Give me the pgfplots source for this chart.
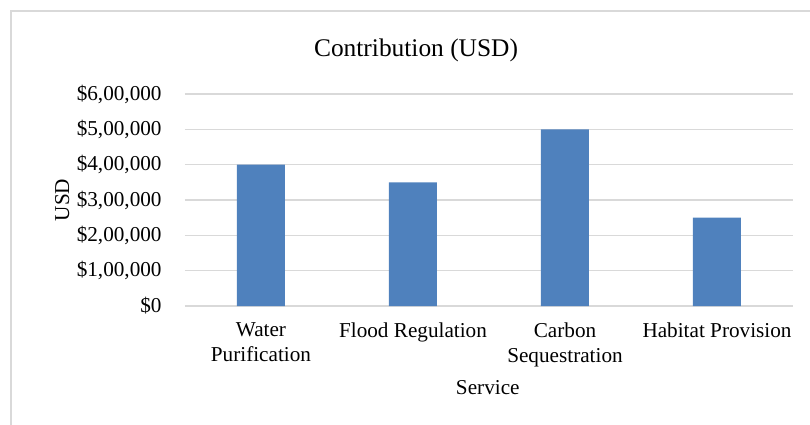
\documentclass[border=0pt]{standalone}
\usepackage{pgfplots}
\pgfplotsset{compat=1.18}
\usepackage{fontspec}
\setmainfont{Liberation Serif}
\definecolor{barblue}{HTML}{4F81BD}
\definecolor{gridgray}{HTML}{D9D9D9}
\begin{document}
\begin{tikzpicture}
\path[use as bounding box] (0,0) rectangle (405pt,212pt);
\begin{scope}
\clip (0,0) rectangle (405pt,212pt);
\draw[gridgray, line width=1pt] (5.5pt,-5pt) -- (5.5pt,206.5pt) -- (420pt,206.5pt);
\end{scope}
\begin{axis}[
  at={(92.5pt,59pt)}, anchor=south west,
  scale only axis, width=304pt, height=106pt,
  xmin=-0.5, xmax=3.5, ymin=0, ymax=600000,
  ybar, bar width=24pt,
  axis x line*=bottom, axis y line*=left,
  x axis line style={gridgray, line width=0.6pt, -},
  y axis line style={draw=none},
  major tick length=0pt,
  ymajorgrids, grid style={gridgray, line width=0.6pt},
  xtick={0,1,2,3},
  xticklabels={{Water\\Purification},{Flood Regulation},{Carbon\\Sequestration},{Habitat Provision}},
  xticklabel style={align=center, anchor=north, inner sep=0pt, yshift=-8pt, font=\fontsize{10.6}{12.5}\selectfont},
  ytick={0,100000,200000,300000,400000,500000,600000},
  yticklabels={{\$0},{\$1,00,000},{\$2,00,000},{\$3,00,000},{\$4,00,000},{\$5,00,000},{\$6,00,000}},
  yticklabel style={anchor=east, inner sep=0pt, xshift=-11.5pt, font=\fontsize{10.6}{12.5}\selectfont},
  scaled y ticks=false,
  title={Contribution (USD)},
  title style={at={(axis description cs:0.38,1.151)}, anchor=center, font=\fontsize{12.7}{15}\selectfont},
  xlabel={Service},
  xlabel style={at={(axis description cs:0.498,-0.387)}, anchor=center, font=\fontsize{10.6}{12.5}\selectfont},
  ylabel={USD},
  ylabel style={at={(axis description cs:-0.202,0.5)}, anchor=center, rotate=0, font=\fontsize{10.6}{12.5}\selectfont},
  clip=false,
]
\addplot[draw=none, fill=barblue, bar shift=0pt] coordinates {(0,400000) (1,350000) (2,500000) (3,250000)};
\end{axis}
\end{tikzpicture}
\end{document}
